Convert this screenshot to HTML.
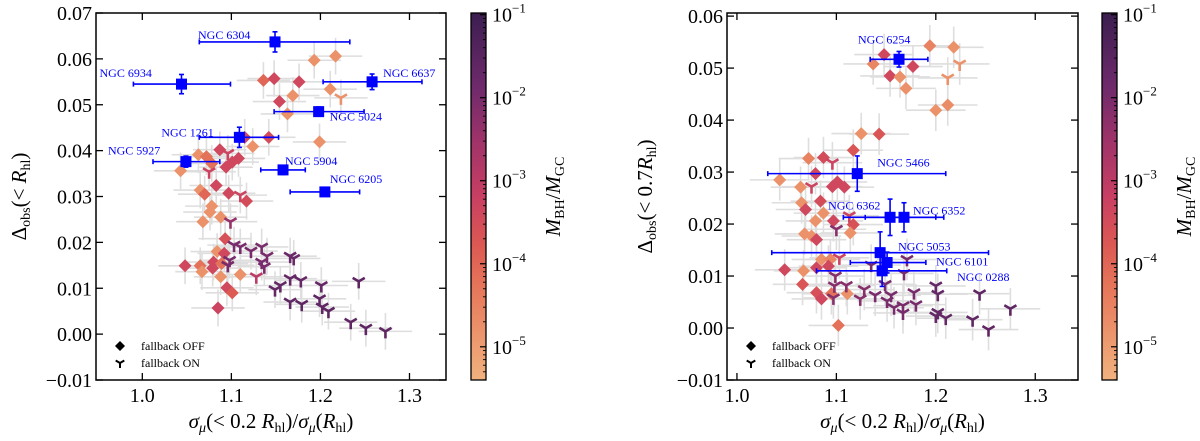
<!DOCTYPE html>
<html><head><meta charset="utf-8"><style>
html,body{margin:0;padding:0;background:#fff;}
svg{display:block;}
svg text{font-family:"Liberation Serif","DejaVu Serif",serif;}
</style></head><body>
<svg id="chart" width="1200" height="441" viewBox="0 0 1200 441" xmlns="http://www.w3.org/2000/svg" font-family="Liberation Serif, DejaVu Serif, serif">
<defs>
<linearGradient id="cmap" x1="0" y1="1" x2="0" y2="0">
<stop offset="0" stop-color="#f1b27e"/><stop offset="0.25" stop-color="#e6775a"/><stop offset="0.37" stop-color="#dc5853"/>
<stop offset="0.5" stop-color="#c83f63"/><stop offset="0.65" stop-color="#9f3369"/><stop offset="0.8" stop-color="#6e2a6b"/><stop offset="1" stop-color="#3b1e4f"/>
</linearGradient>
</defs>
</svg>
<script>
// ---- Left panel data ----
const L_dx=[1.193,1.217,1.136,1.148,1.176,1.211,1.169,1.154,1.163,1.115,1.142,1.124,1.199,1.087,1.063,1.072,1.078,1.094,1.108,1.101,1.043,1.083,1.065,1.070,1.097,1.117,1.078,1.076,1.088,1.068,1.093,1.084,1.092,1.048,1.065,1.080,1.079,1.089,1.067,1.088,1.110,1.095,1.101,1.085];
const L_dy=[0.0597,0.0606,0.0553,0.0557,0.0550,0.0534,0.0520,0.0507,0.0480,0.0429,0.0429,0.0409,0.0419,0.0402,0.0391,0.0387,0.0372,0.0364,0.0383,0.0375,0.0356,0.0324,0.0314,0.0305,0.0307,0.0290,0.0279,0.0266,0.0255,0.0245,0.0208,0.0180,0.0176,0.0149,0.0149,0.0157,0.0144,0.0154,0.0136,0.0125,0.0130,0.0101,0.0090,0.0057];
const L_dc=[-4.8,-4.8,-4.0,-3.4,-3.4,-4.8,-4.8,-3.4,-4.8,-3.4,-3.5,-4.8,-4.8,-3.4,-4.8,-4.2,-4.2,-3.4,-3.4,-3.4,-4.8,-3.4,-4.8,-4.0,-3.4,-3.5,-4.8,-4.8,-4.8,-4.8,-3.6,-4.8,-3.4,-3.4,-4.2,-3.4,-3.4,-4.2,-4.8,-4.8,-4.8,-3.4,-3.8,-3.3];
const L_yx=[1.223,1.096,1.075,1.110,1.099,1.103,1.110,1.122,1.134,1.140,1.134,1.137,1.166,1.170,1.098,1.096,1.128,1.155,1.149,1.166,1.178,1.201,1.243,1.166,1.179,1.199,1.202,1.209,1.234,1.251,1.273];
const L_yy=[0.0515,0.0394,0.0354,0.0303,0.0245,0.0194,0.0190,0.0181,0.0190,0.0170,0.0157,0.0147,0.0170,0.0165,0.0161,0.0150,0.0125,0.0106,0.0097,0.0121,0.0117,0.0106,0.0115,0.0070,0.0065,0.0077,0.0059,0.0050,0.0026,0.0013,0.0006];
const L_yc=[-4.8,-3.3,-3.3,-3.3,-2.4,-2.0,-2.0,-2.0,-2.0,-2.0,-2.0,-2.0,-1.8,-1.8,-2.0,-2.0,-3.0,-1.7,-1.7,-1.7,-1.7,-1.7,-1.6,-1.6,-1.6,-1.6,-1.6,-1.6,-1.6,-1.6,-1.6];
const L_names=["NGC 6304","NGC 6934","NGC 6637","NGC 5024","NGC 1261","NGC 5927","NGC 5904","NGC 6205"];
const L_bx=[1.149,1.044,1.258,1.198,1.109,1.049,1.158,1.205];
const L_by=[0.0637,0.0545,0.0550,0.0485,0.0429,0.0376,0.0358,0.0310];
const L_bxlo=[1.064,0.990,1.203,1.148,1.064,1.012,1.133,1.166];
const L_bxhi=[1.233,1.099,1.314,1.249,1.153,1.087,1.183,1.244];
const L_byerr=[0.0022,0.0021,0.0017,0.0010,0.0022,0.0012,0.0010,0.0005];
// ---- Right panel data ----
const R_dx=[1.194,1.218,1.148,1.137,1.177,1.154,1.164,1.170,1.200,1.212,1.125,1.143,1.117,1.072,1.087,1.079,1.043,1.064,1.096,1.101,1.108,1.065,1.084,1.069,1.087,1.079,1.097,1.117,1.114,1.068,1.075,1.080,1.048,1.067,1.080,1.085,1.094,1.092,1.066,1.080,1.085,1.095,1.111,1.102];
const R_dy=[0.0543,0.0540,0.0526,0.0508,0.0503,0.0485,0.0483,0.0461,0.0419,0.0429,0.0374,0.0373,0.0342,0.0326,0.0328,0.0297,0.0285,0.0271,0.0272,0.0281,0.0271,0.0241,0.0244,0.0228,0.0221,0.0206,0.0206,0.0199,0.0183,0.0181,0.0177,0.0170,0.0112,0.0110,0.0116,0.0132,0.0132,0.0119,0.0084,0.0068,0.0056,0.0066,0.0066,0.0005];
const R_dc=[-4.5,-4.8,-3.4,-4.6,-3.4,-3.4,-4.8,-4.8,-4.8,-4.7,-4.8,-3.7,-3.7,-4.5,-3.5,-3.4,-4.8,-4.8,-3.4,-3.4,-3.4,-4.8,-3.5,-3.4,-4.8,-4.8,-3.4,-3.6,-4.8,-4.8,-4.8,-3.4,-3.4,-4.8,-3.4,-4.8,-4.6,-3.4,-3.7,-3.6,-3.4,-4.2,-4.8,-4.2];
const R_yx=[1.224,1.212,1.096,1.075,1.113,1.100,1.103,1.135,1.171,1.168,1.099,1.098,1.110,1.128,1.097,1.124,1.139,1.155,1.151,1.158,1.167,1.180,1.178,1.167,1.200,1.202,1.202,1.200,1.210,1.237,1.244,1.253,1.275,1.149];
const R_yy=[0.0508,0.0481,0.0318,0.0272,0.0216,0.0190,0.0135,0.0121,0.0132,0.0105,0.0100,0.0081,0.0082,0.0074,0.0058,0.0056,0.0063,0.0063,0.0052,0.0039,0.0043,0.0045,0.0068,0.0029,0.0081,0.0065,0.0030,0.0023,0.0019,0.0016,0.0066,-0.0003,0.0037,0.0084];
const R_yc=[-4.8,-4.8,-3.3,-3.3,-3.3,-2.2,-3.3,-2.0,-2.0,-2.0,-2.2,-2.2,-2.2,-2.2,-2.2,-2.2,-2.0,-2.0,-2.0,-2.0,-2.0,-2.0,-2.0,-2.0,-1.7,-1.7,-1.7,-1.7,-1.7,-1.6,-1.6,-1.6,-1.6,-2.0];
const R_names=["NGC 6254","NGC 5466","NGC 6362","NGC 6352","NGC 5053","NGC 6101","NGC 0288"];
const R_bx=[1.163,1.121,1.154,1.168,1.144,1.151,1.146];
const R_by=[0.0517,0.0297,0.0213,0.0213,0.0145,0.0126,0.0110];
const R_bxlo=[1.134,1.031,1.107,1.129,1.035,1.114,1.080];
const R_bxhi=[1.192,1.210,1.200,1.208,1.253,1.190,1.211];
const R_byerr=[0.0015,0.0034,0.0035,0.0028,0.0040,0.0020,0.0030];
const xTicks=[1.0,1.1,1.2,1.3];
const xTickLabels=["1.0","1.1","1.2","1.3"];
const L_yTicks=[-0.01,0,0.01,0.02,0.03,0.04,0.05,0.06,0.07];
const L_yTickLabels=["\u22120.01","0.00","0.01","0.02","0.03","0.04","0.05","0.06","0.07"];
const R_yTicks=[-0.01,0,0.01,0.02,0.03,0.04,0.05,0.06];
const R_yTickLabels=["\u22120.01","0.00","0.01","0.02","0.03","0.04","0.05","0.06"];
const cbDecades=[-1,-2,-3,-4,-5];
const ERR_X=0.03, ERR_Y=0.004;

const NS="http://www.w3.org/2000/svg";
const svg=document.getElementById('chart');
const FONT='Liberation Serif, DejaVu Serif, serif';
function el(tag,attrs,parent){const e=document.createElementNS(NS,tag);for(const k in attrs)e.setAttribute(k,attrs[k]);if(tag==='text')e.setAttribute('font-family',FONT);(parent||svg).appendChild(e);return e;}
const STOPS=[[0,[241,178,126]],[0.25,[230,119,90]],[0.37,[220,88,83]],[0.5,[200,63,99]],[0.65,[159,51,105]],[0.8,[110,42,107]],[1,[59,30,79]]];
function cmap(v,lo,hi){let t=(v-lo)/(hi-lo);t=Math.max(0,Math.min(1,t));for(let i=1;i<STOPS.length;i++){if(t<=STOPS[i][0]){const a=STOPS[i-1],b=STOPS[i];const f=(t-a[0])/(b[0]-a[0]);const c=a[1].map((x,j)=>Math.round(x+(b[1][j]-x)*f));return `rgb(${c})`;}}return 'rgb(59,30,79)';}

function panel(P,D){
  const sx=v=>P.x0+(v-P.xmin)/(P.xmax-P.xmin)*(P.x1-P.x0);
  const sy=v=>P.y1-(v-P.ymin)/(P.ymax-P.ymin)*(P.y1-P.y0);
  const g=el('g',{});  
  const ge=el('g',{stroke:'#dedede','stroke-width':1.6},g);
   
  const allx=D.dx.concat(D.yx), ally=D.dy.concat(D.yy);
  allx.forEach((x,i)=>{const y=ally[i];
    el('line',{x1:sx(x-ERR_X),x2:sx(x+ERR_X),y1:sy(y),y2:sy(y)},ge);
    el('line',{x1:sx(x),x2:sx(x),y1:sy(y-ERR_Y),y2:sy(y+ERR_Y)},ge);});
  D.dx.forEach((x,i)=>{const cx=sx(x),cy=sy(D.dy[i]),r=6.5;
    const p=el('polygon',{points:`${cx},${cy-r} ${cx+r},${cy} ${cx},${cy+r} ${cx-r},${cy}`,fill:cmap(D.dc[i],P.clo,P.chi)},g);
     });
  D.yx.forEach((x,i)=>{const cx=sx(x),cy=sy(D.yy[i]),r=7;
    const p=el('path',{d:`M${cx},${cy} L${cx},${cy+r} M${cx},${cy} L${cx-r*0.866},${cy-r*0.5} M${cx},${cy} L${cx+r*0.866},${cy-r*0.5}`,stroke:cmap(D.yc[i],P.clo,P.chi),'stroke-width':2.6,fill:'none'},g);
     });
  D.bx.forEach((x,i)=>{const cx=sx(x),cy=sy(D.by[i]);
    const bg=el('g',{stroke:'#0000ff','stroke-width':1.6,fill:'#0000ff'},g);
     
    const xl=sx(D.bxlo[i]),xh=sx(D.bxhi[i]),yt=sy(D.by[i]+D.byerr[i]),yb=sy(D.by[i]-D.byerr[i]);
    el('line',{x1:xl,x2:xh,y1:cy,y2:cy},bg);
    el('line',{x1:xl,x2:xl,y1:cy-2.5,y2:cy+2.5},bg);el('line',{x1:xh,x2:xh,y1:cy-2.5,y2:cy+2.5},bg);
    el('line',{x1:cx,x2:cx,y1:yt,y2:yb},bg);
    el('line',{x1:cx-2.5,x2:cx+2.5,y1:yt,y2:yt},bg);el('line',{x1:cx-2.5,x2:cx+2.5,y1:yb,y2:yb},bg);
    el('rect',{x:cx-5.5,y:cy-5.5,width:11,height:11,stroke:'none'},bg);
    const t=el('text',{x:cx+P.lab[i][0],y:cy+P.lab[i][1],fill:'#0000ff','font-size':12,stroke:'none'},bg);
    t.textContent=D.names[i];
     });
  const fr=el('rect',{x:P.x0,y:P.y0,width:P.x1-P.x0,height:P.y1-P.y0,fill:'none',stroke:'#000','stroke-width':1.5},g);
   
  const ax=el('g',{stroke:'#000','stroke-width':1.3},g);
   
  xTicks.forEach((v,i)=>{const x=sx(v);
    el('line',{x1:x,x2:x,y1:P.y1,y2:P.y1-7},ax);el('line',{x1:x,x2:x,y1:P.y0,y2:P.y0+7},ax);
    const t=el('text',{x:x,y:P.y1+22,'text-anchor':'middle','font-size':20,stroke:'none',fill:'#000'},g);t.textContent=xTickLabels[i];
     });
  P.yTicks.forEach((v,i)=>{const y=sy(v);
    el('line',{x1:P.x0,x2:P.x0+7,y1:y,y2:y},ax);el('line',{x1:P.x1,x2:P.x1-7,y1:y,y2:y},ax);
    const t=el('text',{x:P.x0-4,y:y+7,'text-anchor':'end','font-size':20,fill:'#000'},g);t.textContent=P.yTickLabels[i];
     });
  const xl=el('text',{x:(P.x0+P.x1)/2,y:428,'text-anchor':'middle','font-size':21,fill:'#000'},g);
  xl.innerHTML='<tspan font-style="italic">σ</tspan><tspan font-style="italic" font-size="14" dy="4">μ</tspan><tspan dy="-4">(&lt; 0.2 </tspan><tspan font-style="italic">R</tspan><tspan font-size="14" dy="4">hl</tspan><tspan dy="-4">)/</tspan><tspan font-style="italic">σ</tspan><tspan font-style="italic" font-size="14" dy="4">μ</tspan><tspan dy="-4">(</tspan><tspan font-style="italic">R</tspan><tspan font-size="14" dy="4">hl</tspan><tspan dy="-4">)</tspan>';
   
  const yl=el('text',{x:0,y:0,'text-anchor':'middle','font-size':21,fill:'#000',transform:`translate(${P.ylx},${(P.y0+P.y1)/2}) rotate(-90)`},g);
  yl.innerHTML='Δ<tspan font-size="14" dy="4">obs</tspan><tspan dy="-4">(&lt; '+P.yinner+'</tspan><tspan font-style="italic">R</tspan><tspan font-size="14" dy="4">hl</tspan><tspan dy="-4">)</tspan>';
   
  const lg=el('g',{},g);  
  const lx=P.x0+24,ly=P.y1-34;
  el('polygon',{points:`${lx},${ly-5} ${lx+5},${ly} ${lx},${ly+5} ${lx-5},${ly}`,fill:'#000'},lg);
  el('path',{d:`M${lx},${ly+17} v5 M${lx},${ly+17} l-4.3,-2.5 M${lx},${ly+17} l4.3,-2.5`,stroke:'#000','stroke-width':2,fill:'none'},lg);
  const t1=el('text',{x:lx+21,y:ly+4,'font-size':12,fill:'#000'},lg);t1.textContent='fallback OFF';
   
  const t2=el('text',{x:lx+21,y:ly+21,'font-size':12,fill:'#000'},lg);t2.textContent='fallback ON';
   
  const cb=el('g',{},g);  
  const cy=v=>P.y1-(v-P.clo)/(P.chi-P.clo)*(P.y1-P.y0);
  el('rect',{x:P.cbx,y:P.y0,width:15,height:P.y1-P.y0,fill:'url(#cmap)',stroke:'#000','stroke-width':1.3},cb);
  cbDecades.forEach(d=>{const y=cy(d);
    el('line',{x1:P.cbx+15,x2:P.cbx+9,y1:y,y2:y,stroke:'#000','stroke-width':1.2},cb);
    for(let k=2;k<10;k++){const yy=cy(d-1+Math.log10(k));if(yy<=P.y1&&yy>=P.y0)el('line',{x1:P.cbx+15,x2:P.cbx+12,y1:yy,y2:yy,stroke:'#000','stroke-width':0.9},cb);}
    const t=el('text',{x:P.cbx+21,y:y+7,'font-size':20,fill:'#000'},cb);
    t.innerHTML='10<tspan font-size="13" dy="-9">−'+(-d)+'</tspan>';
     });
  const cl=el('text',{x:0,y:0,'text-anchor':'middle','font-size':21,fill:'#000',transform:`translate(${P.cbx+89},${(P.y0+P.y1)/2}) rotate(-90)`},cb);
  cl.innerHTML='<tspan font-style="italic">M</tspan><tspan font-size="14" dy="4">BH</tspan><tspan dy="-4">/</tspan><tspan font-style="italic">M</tspan><tspan font-size="14" dy="4">GC</tspan>';
   
}
panel({name:'left-panel',x0:96,x1:446,y0:13,y1:380,xmin:0.948,xmax:1.341,ymin:-0.01,ymax:0.07,
  yTicks:L_yTicks,yTickLabels:L_yTickLabels,ylx:26,yinner:'',cbx:471,clo:-5.4,chi:-0.98,
  lab:[[-77,-3],[-82,-7],[11,-5],[11,9],[-78,-1],[-78,-7],[2,-5],[5,-9]]},
  {dx:L_dx,dy:L_dy,dc:L_dc,yx:L_yx,yy:L_yy,yc:L_yc,names:L_names,bx:L_bx,by:L_by,bxlo:L_bxlo,bxhi:L_bxhi,byerr:L_byerr});
panel({name:'right-panel',x0:727,x1:1078,y0:13,y1:380,xmin:0.99,xmax:1.343,ymin:-0.01,ymax:0.0606,
  yTicks:R_yTicks,yTickLabels:R_yTickLabels,ylx:652,yinner:'0.7',cbx:1102,clo:-5.4,chi:-0.98,
  lab:[[-41,-16],[20,-7],[-62,-8],[9,-3],[18,-2],[49,3],[75,10]]},
  {dx:R_dx,dy:R_dy,dc:R_dc,yx:R_yx,yy:R_yy,yc:R_yc,names:R_names,bx:R_bx,by:R_by,bxlo:R_bxlo,bxhi:R_bxhi,byerr:R_byerr});
</script>
</body></html>
